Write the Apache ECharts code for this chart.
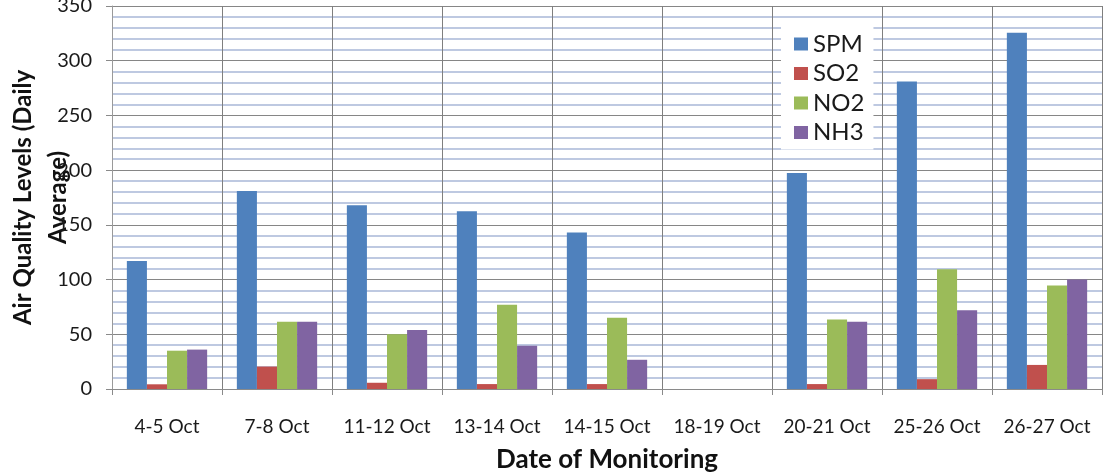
<!DOCTYPE html>
<html>
<head>
<meta charset="utf-8">
<script src="https://cdn.jsdelivr.net/npm/echarts@6/dist/echarts.min.js"></script>
<style>
  html, body { margin: 0; padding: 0; background: #fff; }
  #chart { width: 1104px; height: 475px; }
</style>
</head>
<body>
<div id="chart"></div>
<script>
const categories = ['4-5 Oct', '7-8 Oct', '11-12 Oct', '13-14 Oct', '14-15 Oct', '18-19 Oct', '20-21 Oct', '25-26 Oct', '26-27 Oct']
const spm = [117, 181, 168, 162.5, 143, null, 197.5, 281, 325.5]
const so2 = [4.3, 20.5, 5.7, 4.5, 4.5, null, 4.5, 9, 22]
const no2 = [35, 61.5, 50, 77, 65, null, 63.5, 109.5, 94.5]
const nh3 = [36, 61.5, 54, 39.5, 26.7, null, 61.5, 72, 100]
const seriesNames = ['SPM', 'SO2', 'NO2', 'NH3']
const seriesColors = ['#4f81bd', '#c0504d', '#9bbb59', '#8064a2']

const font = 'Lato, "Open Sans", sans-serif'
const chart = echarts.init(document.getElementById('chart'))

const mkBar = (name, data, i) => ({
	name,
	type: 'bar',
	data,
	barGap: '0%',
	barCategoryGap: '27%',
	itemStyle: { color: seriesColors[i] },
})

chart.setOption({
	animation: false,
	textStyle: { fontFamily: font },
	grid: { left: 112, right: 2, top: 6, bottom: 86, outerBoundsMode: 'none', containLabel: false },
	legend: {
		orient: 'vertical',
		left: 781,
		top: 25,
		padding: [7, 9, 5, 13],
		backgroundColor: '#ffffff',
		icon: 'rect',
		itemWidth: 14,
		itemHeight: 13,
		itemGap: 5.5,
		textStyle: { fontFamily: font, fontSize: 24, color: '#1a1a1a' },
		data: seriesNames,
	},
	xAxis: {
		type: 'category',
		data: categories,
		axisLine: { lineStyle: { color: '#8a8a8a' } },
		axisTick: { show: true, length: 6, lineStyle: { color: '#8a8a8a' } },
		axisLabel: { fontFamily: font, fontSize: 19, color: '#1a1a1a', margin: 28, interval: 0 },
		splitLine: { show: true, lineStyle: { color: '#7f7f7f', width: 1 } },
		name: 'Date of Monitoring',
		nameLocation: 'middle',
		nameGap: 58,
		nameMoveOverlap: false,
		nameTextStyle: { fontFamily: font, fontSize: 26, fontWeight: 'bold', color: '#111' },
	},
	yAxis: {
		type: 'value',
		min: 0,
		max: 350,
		interval: 50,
		axisLine: { show: true, lineStyle: { color: '#9a9a9a' } },
		axisTick: { show: true, length: 6, lineStyle: { color: '#8a8a8a' } },
		axisLabel: { fontFamily: font, fontSize: 20, color: '#1a1a1a', margin: 20 },
		splitLine: { show: true, lineStyle: { color: '#868686', width: 1 } },
		minorTick: { show: false, splitNumber: 5 },
		minorSplitLine: { show: true, lineStyle: { color: '#a9b8d8', width: 1.5 } },
		name: 'Air Quality Levels (Daily\nAverage)',
		nameLocation: 'middle',
		nameGap: 36,
		nameMoveOverlap: false,
		nameTextStyle: { fontFamily: font, fontSize: 24, fontWeight: 'bold', color: '#111', lineHeight: 35 },
	},
	series: [
		mkBar('SPM', spm, 0),
		mkBar('SO2', so2, 1),
		mkBar('NO2', no2, 2),
		mkBar('NH3', nh3, 3),
	],
})

window.addEventListener('resize', () => {
	chart.resize()
})
</script>
</body>
</html>
